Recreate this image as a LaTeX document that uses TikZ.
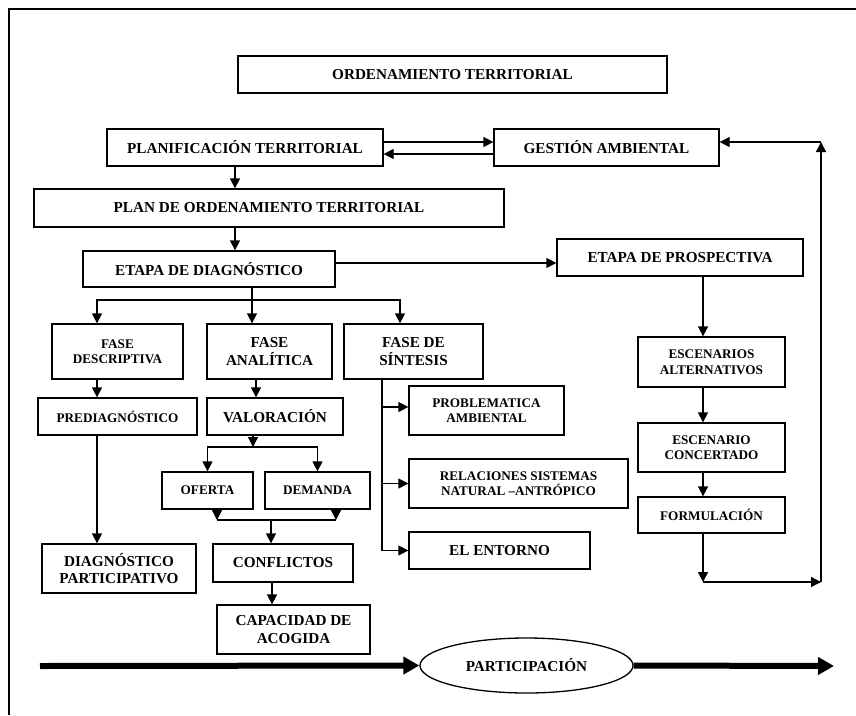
\documentclass[tikz,border=0pt]{standalone}
\usepackage{fontspec}
\setmainfont{Liberation Serif}
\usetikzlibrary{arrows.meta,shapes.geometric}
\begin{document}
\begin{tikzpicture}[x=1pt,y=-1pt,
  box/.style={draw,line width=1.3pt,inner sep=0pt,align=center,font=\bfseries\fontsize{15.2}{17.5}\selectfont},
  sbox/.style={box,font=\bfseries\fontsize{13.2}{15.5}\selectfont},
  ln/.style={line width=1.3pt},
  arr/.style={line width=1.3pt,-{Triangle[length=10pt,width=10pt]}},
  bigarr/.style={line width=6pt,-{Triangle[length=16pt,width=17pt]}}]
\useasboundingbox (0,0) rectangle (856,715);
% frame
\draw[line width=1.2pt] (9,715) -- (9,9) -- (856,9);
% boxes
\node[box,minimum width=429pt,minimum height=37pt] (OT) at (452.5,74.5) {ORDENAMIENTO TERRITORIAL};
\node[box,minimum width=276pt,minimum height=37pt] (PT) at (245,147.5) {PLANIFICACIÓN TERRITORIAL};
\node[box,minimum width=225pt,minimum height=37pt] (GA) at (606.5,147.5) {GESTIÓN AMBIENTAL};
\node[box,minimum width=470pt,minimum height=38pt] (POT) at (269,208) {PLAN DE ORDENAMIENTO TERRITORIAL};
\node[box,minimum width=252pt,minimum height=36pt] (ED) at (209,269) {ETAPA DE DIAGNÓSTICO};
\node[box,minimum width=246pt,minimum height=37pt] (EP) at (680,257.5) {ETAPA DE PROSPECTIVA};
\node[sbox,minimum width=131pt,minimum height=55pt] (FD) at (117.5,351.5) {FASE\\DESCRIPTIVA};
\node[box,minimum width=125pt,minimum height=55pt] (FA) at (269.5,351.5) {FASE\\ANALÍTICA};
\node[box,minimum width=139pt,minimum height=55pt] (FS) at (413.5,351.5) {FASE DE\\SÍNTESIS};
\node[sbox,minimum width=159pt,minimum height=37pt] (PRE) at (117.5,416.5) {PREDIAGNÓSTICO};
\node[box,minimum width=136pt,minimum height=37pt] (VAL) at (275,416.5) {VALORACIÓN};
\node[sbox,minimum width=91pt,minimum height=37pt] (OF) at (207.5,490.5) {OFERTA};
\node[sbox,minimum width=105pt,minimum height=37pt] (DEM) at (317.5,490.5) {DEMANDA};
\node[box,minimum width=154pt,minimum height=49pt] (DP) at (119,568.5) {DIAGNÓSTICO\\PARTICIPATIVO};
\node[box,minimum width=140pt,minimum height=38pt] (CONF) at (283,563) {CONFLICTOS};
\node[box,minimum width=153pt,minimum height=49pt] (CAP) at (293.5,629.5) {CAPACIDAD DE\\ACOGIDA};
\node[sbox,minimum width=155pt,minimum height=49pt] (PA) at (486.5,410.5) {PROBLEMATICA\\AMBIENTAL};
\node[sbox,minimum width=219pt,minimum height=49pt] (REL) at (518.5,483.5) {RELACIONES SISTEMAS\\NATURAL –ANTRÓPICO};
\node[box,minimum width=181pt,minimum height=37pt] (EE) at (499.5,550.5) {EL ENTORNO};
\node[sbox,minimum width=147pt,minimum height=50pt] (EA) at (711.5,362) {ESCENARIOS\\ALTERNATIVOS};
\node[sbox,minimum width=147pt,minimum height=49pt] (EC) at (711.5,447.5) {ESCENARIO\\CONCERTADO};
\node[sbox,minimum width=147pt,minimum height=36pt] (FORM) at (711.5,515) {FORMULACIÓN};
\node[box,ellipse,minimum width=213pt,minimum height=55pt] (PAR) at (526.5,665.5) {PARTICIPACIÓN};
% top connectors
\draw[arr] ([yshift=5.5pt]PT.east) -- ([yshift=5.5pt]PT.east -| GA.west);
\draw[arr] ([yshift=-6.5pt]GA.west) -- ([yshift=-6.5pt]GA.west -| PT.east);
\draw[arr] ([xshift=-10pt]PT.south) -- ([xshift=-10pt]PT.south |- POT.north);
\draw[arr] ([xshift=-10pt]PT.south |- POT.south) -- ([xshift=-10pt]PT.south |- ED.north);
\draw[arr] ([yshift=6pt]ED.east) -- ([yshift=6pt]ED.east -| EP.west);
% diagnostic split
\coordinate (s1) at (252,300);
\draw[ln] ([xshift=43pt]ED.south) -- (s1);
\draw[arr] (s1) -- (s1 |- FA.north);
\draw[arr] (s1) -| ([xshift=-20.5pt]FD.north);
\draw[arr] (s1) -| ([xshift=-13.5pt]FS.north);
\draw[arr] ([xshift=-20.5pt]FD.south) -- ([xshift=-20.5pt]FD.south |- PRE.north);
\draw[arr] ([xshift=-20.5pt]PRE.south) -- ([xshift=-20.5pt]PRE.south |- DP.north);
\draw[arr] ([xshift=-13.5pt]FA.south) -- ([xshift=-13.5pt]FA.south |- VAL.north);
% valoracion split
\coordinate (s2) at (253,447);
\draw[arr] ([xshift=-22pt]VAL.south) -- (s2);
\draw[arr] (s2) -| (OF.north);
\draw[arr] (s2) -| (DEM.north);
% merge
\coordinate (m1) at (217,520);
\coordinate (m2) at (336,520);
\coordinate (m3) at (271,520);
\draw[arr] ([xshift=9.5pt]OF.south) -- (m1);
\draw[arr] ([xshift=18.5pt]DEM.south) -- (m2);
\draw[ln] (m1) -- (m2);
\draw[arr] (m3) -- (m3 |- CONF.north);
\draw[arr] ([xshift=-11pt]CONF.south) -- ([xshift=-11pt]CONF.south |- CAP.north);
% sintesis branches
\coordinate (t) at ([xshift=-31.5pt]FS.south);
\draw[ln] (t) -- (t |- EE.west);
\draw[arr] (t |- EE.west) -- (EE.west);
\draw[arr] ([yshift=3.5pt]PA.west -| t) -- ([yshift=3.5pt]PA.west);
\draw[arr] (t |- REL.west) -- (REL.west);
% prospectiva chain
\draw[arr] ([xshift=23pt]EP.south) -- ([xshift=23pt]EP.south |- EA.north);
\draw[arr] ([xshift=-8.5pt]EA.south) -- ([xshift=-8.5pt]EA.south |- EC.north);
\draw[arr] ([xshift=-8.5pt]EC.south) -- ([xshift=-8.5pt]EC.south |- FORM.north);
\coordinate (L1) at (703,582);
\coordinate (L2) at (821,582);
\coordinate (L3) at (821,142);
\draw[arr] ([xshift=-8.5pt]FORM.south) -- (L1);
\draw[arr] (L1) -- (L2);
\draw[arr] (L2) -- (L3);
\draw[arr] (L3) -- (L3 -| GA.east);
% participation arrows
\coordinate (P0) at (40,666);
\coordinate (P1) at (834,666);
\draw[bigarr] (P0) -- (PAR.west);
\draw[bigarr] (PAR.east) -- (P1);
\end{tikzpicture}
\end{document}
